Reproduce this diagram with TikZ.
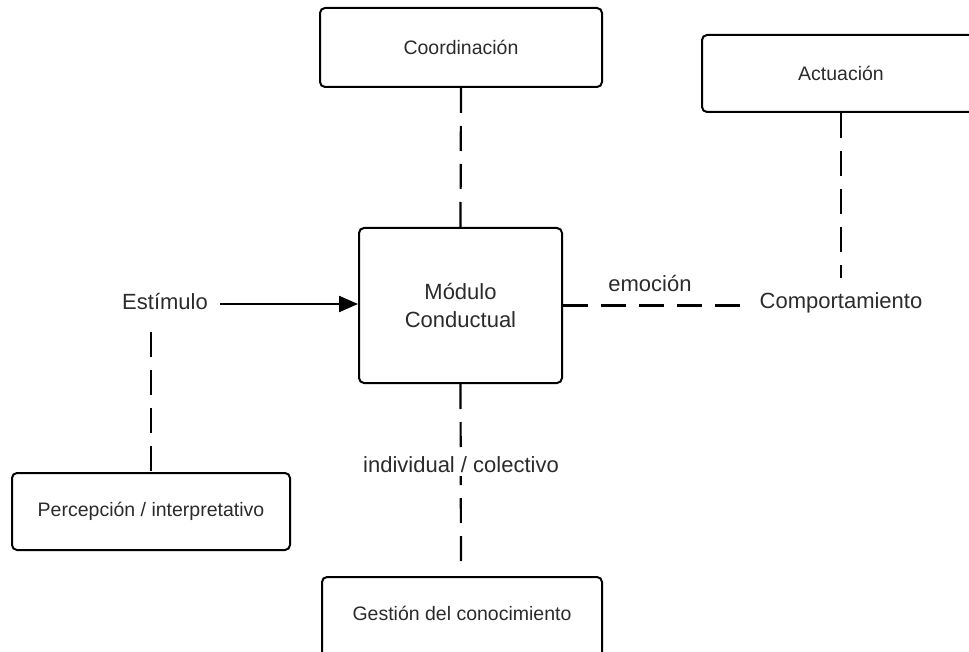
\documentclass[tikz,border=0pt]{standalone}
\usepackage{fontspec}
\setmainfont{Liberation Sans}
\usetikzlibrary{arrows.meta}
\definecolor{inkgray}{HTML}{2B2B2B}
\tikzset{
  box/.style={draw=black, line width=2pt, rounded corners=5pt, fill=white,
    text=inkgray, font=\fontsize{19.5}{23}\selectfont, inner sep=0pt},
  plain/.style={text=inkgray, font=\fontsize{22}{27}\selectfont, inner sep=0pt},
  link/.style={line width=2.2pt, draw=black, dash pattern=on 25pt off 13pt},
  flow/.style={line width=2.2pt, draw=black, -{Triangle[length=19pt,width=16pt]}},
}
\begin{document}
\begin{tikzpicture}[x=1pt,y=-1pt]
  \useasboundingbox (0,0) rectangle (969,652);
  \clip (0,0) rectangle (969,652);

  % boxes
  \node[box, minimum width=282pt, minimum height=79pt] (coord) at (461,47.5) {Coordinación};
  \node[box, minimum width=278pt, minimum height=77pt] (act) at (841,73.5) {Actuación};
  \node[box, minimum width=203pt, minimum height=155pt, align=center,
        font=\fontsize{22}{28}\selectfont] (mod) at (460.5,305.5) {Módulo\\Conductual};
  \node[box, minimum width=278pt, minimum height=77pt] (perc) at (151,511.5) {Percepción / interpretativo};
  \node[box, minimum width=280pt, minimum height=84pt] (gest) at (462,619) {};
  \node[text=inkgray, font=\fontsize{19.5}{23}\selectfont, inner sep=0pt] (gesttxt) at (462,613) {Gestión del conocimiento};

  % free-standing labels
  \node[plain] (est) at (165,302) {Estímulo};
  \node[plain] (comp) at (841,303) {Comportamiento};
  \node[plain] (emo) at (650,284) {emoción};
  \coordinate (estdrop) at (151,332);
  \coordinate (estright) at (220,304);
  \coordinate (comptop) at (841,278);
  \coordinate (compleft) at (740,305.5);
  \coordinate (gestup) at (461,565);

  % connectors
  \draw[flow] (estright) -- (mod.west |- estright);
  \draw[link] (coord.south) -- (mod.north);
  \draw[link] (mod.east) -- (compleft);
  \draw[link] (act.south) -- (comptop);
  \draw[link] (estdrop) -- (perc.north);
  \draw[link] (mod.south) -- (gestup);

  % label sitting on the lower link
  \node[plain, fill=white, inner ysep=3pt, inner xsep=0pt] (indiv) at (461,465) {individual / colectivo};
\end{tikzpicture}
\end{document}
